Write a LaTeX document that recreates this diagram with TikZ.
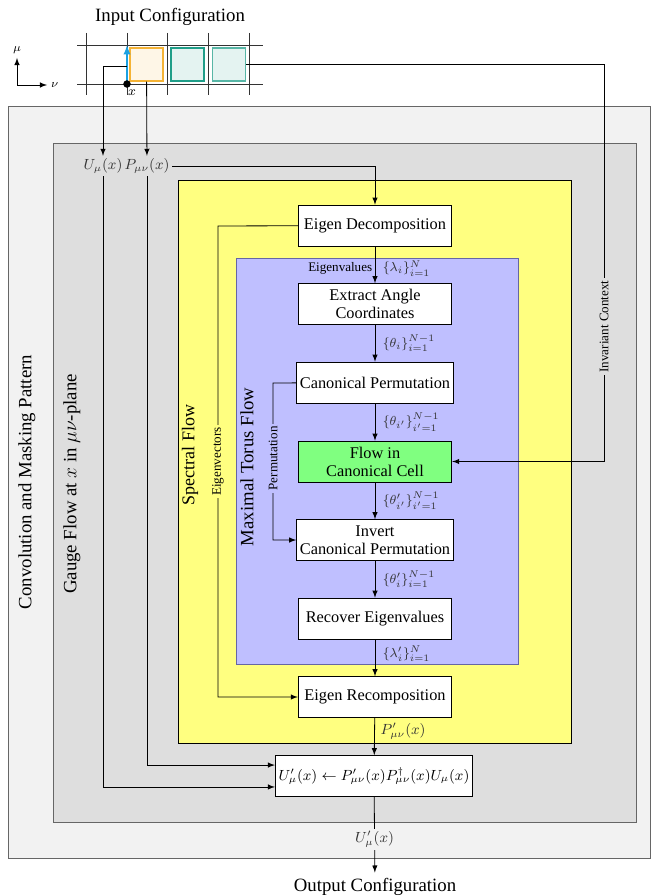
\documentclass[tikz,border=0pt]{standalone}
\usepackage[no-math]{fontspec}
\setmainfont{Liberation Serif}
\newcommand{\biglbl}{\fontsize{11.5}{14}\selectfont}
\definecolor{maskgray}{HTML}{F2F2F2}
\definecolor{gaugegray}{HTML}{DEDEDE}
\definecolor{spectral}{HTML}{FFFF80}
\definecolor{torus}{HTML}{BFBFFF}
\definecolor{cellgreen}{HTML}{80FF80}
\definecolor{linkblue}{HTML}{1BA1E2}
\definecolor{plaqorange}{HTML}{F5B335}
\definecolor{plaqteal}{HTML}{1F9E89}
\tikzset{
  block/.style={draw, fill=white, minimum width=94pt, minimum height=25pt,
    align=center, inner sep=2pt, font=\fontsize{10}{11}\selectfont},
  lbl/.style={font=\small, text=black!80, inner sep=1.5pt},
  setlbl/.style={font=\footnotesize, text=black!80, inner sep=0.5pt},
  tag/.style={font=\footnotesize, inner sep=1.5pt},
  plaq/.style={minimum size=20.2pt, inner sep=0pt, line width=0.8pt},
}
\begin{document}
\begin{tikzpicture}[x=0.612pt, y=-0.612pt, >=latex, line width=0.5pt]
      \useasboundingbox (0,0) rectangle (658,896);

      % REGIONS
      \draw[black!60, fill=maskgray]  (8,106)   rectangle (650,858);
      \draw[black!60, fill=gaugegray] (53,143)  rectangle (636,822);
      \draw[fill=spectral]            (178,180) rectangle (571,743);
      \draw[black!60!blue!60, fill=torus] (236,258) rectangle (518,664);

      \node[rotate=90, font=\biglbl] at (27,482) {Convolution and Masking Pattern};
      \node[rotate=90, font=\biglbl] at (72,484) {Gauge Flow at $x$ in $\mu\nu$-plane};
      \node[rotate=90, font=\fontsize{11}{13}\selectfont] at (190,455) {Spectral Flow};
      \node[rotate=90, font=\biglbl] at (247,467) {Maximal Torus Flow};

      % INPUT LATTICE
      \node[font=\biglbl] (in) at (170,17) {Input Configuration};
      \foreach \gx in {86,127,167,208,249}
        \draw[black!80] (\gx,33) -- (\gx,95);
      \foreach \gy in {45,84}
        \draw[black!80] (77,\gy) -- (263,\gy);
      \node[plaq, draw=plaqorange, fill=plaqorange!12] (plaq)  at (146.5,64.5) {};
      \node[plaq, draw=plaqteal, fill=plaqteal!12]     (cella) at (187.5,64.5) {};
      \node[plaq, draw=plaqteal!75, fill=plaqteal!12]  (ctx)   at (229,64.5) {};

      % link U_mu(x) at site x
      \coordinate (site)    at (127,84);
      \coordinate (linktop) at (127,45);
      \coordinate (linkmid) at (127,66);
      \draw[->, linkblue, line width=1pt] (site) -- (linktop);
      \fill (site) circle (2.3pt);
      \node[font=\footnotesize] at (132,93) {$x$};

      % axes
      \coordinate (origin) at (17,85);
      \draw[->] (origin) -- (17,58) node[above=-1pt, font=\scriptsize] {$\mu$};
      \draw[->] (origin) -- (47,85) node[right=-1pt, font=\scriptsize] {$\nu$};

      % BLOCKS
      \node[block] (ed)  at (375,225.5) {Eigen Decomposition};
      \node[block] (ea)  at (375,304)   {Extract Angle\\Coordinates};
      \node[block] (cp)  at (375,382.5) {Canonical Permutation};
      \node[block, fill=cellgreen] (flow) at (375,461.5) {Flow in\\Canonical Cell};
      \node[block] (inv) at (375,540)   {Invert\\Canonical Permutation};
      \node[block] (rec) at (375,618.5) {Recover Eigenvalues};
      \node[block] (er)  at (375,697)   {Eigen Recomposition};
      \node[block, minimum width=110pt, font=\small] (upd) at (374,776)
        {$U'_\mu(x)\leftarrow P'_{\mu\nu}(x)P^\dagger_{\mu\nu}(x)U_\mu(x)$};
      \node[font=\biglbl] (out) at (375,887) {Output Configuration};

      % gauge field inputs
      \node[lbl, fill=gaugegray] (uin) at (103,166) {$U_\mu(x)$};
      \node[lbl, fill=gaugegray] (pin) at (147,166) {$P_{\mu\nu}(x)$};

      % ARROWS
      \draw[->] (linkmid) -| (uin);
      \draw[->] (plaq) -- (pin);
      \draw[->] (pin) -| (ed);
      \draw[->] (uin) |- ([yshift=-6.7pt]upd.west);
      \draw[->] (pin) |- ([yshift=6.7pt]upd.west);

      \draw[->] (ed) -- (ea)
        node[tag, pos=0.6, left] {Eigenvalues}
        node[setlbl, pos=0.6, right=4pt] {$\{\lambda_i\}_{i=1}^{N}$};
      \draw[->] (ea) -- (cp) node[setlbl, midway, right=4pt] {$\{\theta_i\}_{i=1}^{N-1}$};
      \draw[->] (cp) -- (flow) node[setlbl, midway, right=4pt] {$\{\theta_{i'}\}_{i'=1}^{N-1}$};
      \draw[->] (flow) -- (inv) node[setlbl, midway, right=4pt] {$\{\theta'_{i'}\}_{i'=1}^{N-1}$};
      \draw[->] (inv) -- (rec) node[setlbl, midway, right=4pt] {$\{\theta'_{i}\}_{i=1}^{N-1}$};
      \draw[->] (rec) -- (er) node[setlbl, pos=0.4, right=4pt] {$\{\lambda'_i\}_{i=1}^{N}$};
      \draw[->] (er) -- (upd) node[lbl, pos=0.35, right=2pt] {$P'_{\mu\nu}(x)$};
      \draw[->] (upd) -- node[lbl, pos=0.56, fill=maskgray] {$U'_\mu(x)$} (out);

      % side channels
      \coordinate (vecbend)  at (218,226);
      \coordinate (permbend) at (273,383);
      \coordinate (ctxbend)  at (604,461.5);
      \draw[->] (ed) -- (vecbend)
        |- node[tag, pos=0.25, rotate=90, fill=spectral] {Eigenvectors} (er);
      \draw[->] (cp) -- (permbend)
        |- node[tag, pos=0.24, rotate=90, fill=torus] {Permutation} (inv);
      \draw[->] (ctx) -| node[tag, pos=0.83, rotate=90, fill=gaugegray] {Invariant Context} (ctxbend)
        -- (flow);
\end{tikzpicture}
\end{document}
